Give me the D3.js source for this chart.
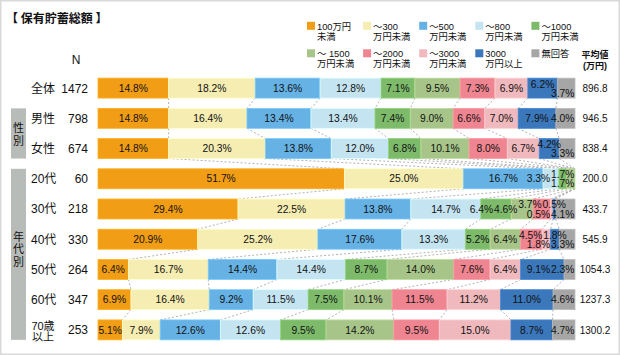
<!DOCTYPE html>
<html><head><meta charset="utf-8">
<script src="https://cdn.jsdelivr.net/npm/d3@7"></script>
<style>
body{margin:0;background:#fff}
svg{display:block}
text{font-family:"Liberation Sans","Noto Sans CJK JP",sans-serif;fill:#111}
</style>
</head><body>
<svg id="chart" width="620" height="355"></svg>
<script>
// ---------- data ----------
const title = "【 保有貯蓄総額 】";
const categories = ["全体","男性","女性","20代","30代","40代","50代","60代","70歳以上"];
const counts = [1472, 798, 674, 60, 218, 330, 264, 347, 253];
const means = [896.8, 946.5, 838.4, 200.0, 433.7, 545.9, 1054.3, 1237.3, 1300.2];
const groups = [
  {name:"性別", from:"男性", to:"女性"},
  {name:"年代別", from:"20代", to:"70歳以上"}
];
const seriesKeys = ["lt100","to300","to500","to800","to1000","to1500","to2000","to3000","ge3000","na"];
const seriesLegend = [
  ["100万円","未満"],["～300","万円未満"],["～500","万円未満"],["～800","万円未満"],["～1000","万円未満"],
  ["～ 1500","万円未満"],["～2000","万円未満"],["～3000","万円未満"],["3000","万円以上"],["無回答"]
];
const seriesColors = ["#f29d16","#f5edb2","#66b2e5","#c4e4f1","#7dbb6b","#a8c589","#ee8590","#f0b9bd","#3b77bb","#a6a6a6"];

const lt100  = [14.8,14.8,14.8,51.7,29.4,20.9, 6.4, 6.9, 5.1];
const to300  = [18.2,16.4,20.3,25.0,22.5,25.2,16.7,16.4, 7.9];
const to500  = [13.6,13.4,13.8,16.7,13.8,17.6,14.4, 9.2,12.6];
const to800  = [12.8,13.4,12.0, 3.3,14.7,13.3,14.4,11.5,12.6];
const to1000 = [ 7.1, 7.4, 6.8, 1.7, 6.4, 5.2, 8.7, 7.5, 9.5];
const to1500 = [ 9.5, 9.0,10.1, 1.7, 4.6, 6.4,14.0,10.1,14.2];
const to2000 = [ 7.3, 6.6, 8.0, 0.0, 3.7, 4.5, 7.6,11.5, 9.5];
const to3000 = [ 6.9, 7.0, 6.7, 0.0, 0.5, 1.8, 6.4,11.2,15.0];
const ge3000 = [ 6.2, 7.9, 4.2, 0.0, 0.5, 1.8, 9.1,11.0, 8.7];
const na     = [ 3.7, 4.0, 3.3, 0.0, 4.1, 3.3, 2.3, 4.6, 4.7];
const seriesValues = [lt100,to300,to500,to800,to1000,to1500,to2000,to3000,ge3000,na];

// ---------- build ----------
const svg = d3.select("#chart");
svg.append("rect").attr("x",0.75).attr("y",0.75).attr("width",618.5).attr("height",353.5)
  .attr("fill","#fff").attr("stroke","#d9d9d9").attr("stroke-width",1.5);

svg.append("text").attr("x",6).attr("y",22.5).attr("font-size",12).attr("font-weight","bold")
  .style("font-family","'Noto Sans CJK JP',sans-serif").text(title);

const rows = categories.map((c,i)=>{
  const o = {cat:c};
  seriesKeys.forEach((k,j)=>o[k]=seriesValues[j][i]);
  return o;
});
const stacked = d3.stack().keys(seriesKeys).offset(d3.stackOffsetExpand)(rows);

const x = d3.scaleLinear().domain([0,1]).range([98,575]);
const y = d3.scaleBand().domain(categories).range([73,345]).paddingInner(0.34).paddingOuter(0.17);
const bw = y.bandwidth();

// group boxes
groups.forEach((g,gi)=>{
  const y0 = y(g.from), y1 = y(g.to)+bw;
  svg.append("rect").attr("x",11).attr("y",y0).attr("width",15).attr("height",y1-y0).attr("fill","#b8bcb9");
  const chars = Array.from(g.name);
  const mid = (y0+y1)/2 + (chars.length>2 ? -5 : 1), step = 12.5;
  chars.forEach((ch,i)=>{
    svg.append("text").attr("x",18.5).attr("y",mid+(i-(chars.length-1)/2)*step+4)
      .attr("text-anchor","middle").attr("font-size",11).text(ch);
  });
});

// header
svg.append("text").attr("x",76).attr("y",63.5).attr("text-anchor","middle").attr("font-size",12).text("N");
svg.append("text").attr("x",595).attr("y",58).attr("text-anchor","middle").attr("font-size",9).attr("font-weight","bold").text("平均値");
svg.append("text").attr("x",595).attr("y",69).attr("text-anchor","middle").attr("font-size",9).attr("font-weight","bold").text("(万円)");

// legend
seriesLegend.forEach((lines,i)=>{
  const col = i%5, row = Math.floor(i/5);
  const lx = 307 + col*56.1, ly = row===0 ? 21.8 : 49.3;
  svg.append("rect").attr("x",lx).attr("y",ly).attr("width",8).attr("height",8).attr("fill",seriesColors[i]);
  lines.forEach((t,j)=>{
    svg.append("text").attr("x",lx+10).attr("y",ly+8+j*10).attr("font-size",9.3).text(t);
  });
});

// category labels, N, means
categories.forEach((c,i)=>{
  const cy = y(c)+bw/2;
  if (c.includes("以上")) {
    const parts = [c.replace("以上",""),"以上"];
    parts.forEach((p,j)=>svg.append("text").attr("x",43).attr("y",cy+j*11).attr("text-anchor","middle").attr("font-size",11).text(p));
  } else {
    svg.append("text").attr("x",31).attr("y",cy+4.4).attr("font-size",12).text(c);
  }
  svg.append("text").attr("x",88).attr("y",cy+4.4).attr("text-anchor","end").attr("font-size",12).text(counts[i]);
  svg.append("text").attr("x",595).attr("y",cy+3.7).attr("text-anchor","middle").attr("font-size",10).text(d3.format(".1f")(means[i]));
});

// dashed connectors
const conn = svg.append("g").attr("stroke","#a9a9a9").attr("stroke-width",0.9).attr("stroke-dasharray","2,2").attr("fill","none");
stacked.slice(0,-1).forEach(layer=>{
  for (let r=0;r<categories.length-1;r++){
    conn.append("line")
      .attr("x1",x(layer[r][1])).attr("y1",y(categories[r])+bw)
      .attr("x2",x(layer[r+1][1])).attr("y2",y(categories[r+1]));
  }
});

// bars
stacked.forEach((layer,k)=>{
  svg.append("g").selectAll("rect").data(layer.filter(d=>d[1]-d[0]>0)).join("rect")
    .attr("x",d=>x(d[0])).attr("y",d=>y(d.data.cat))
    .attr("width",d=>x(d[1])-x(d[0])).attr("height",bw)
    .attr("fill",seriesColors[k])
    .attr("stroke",d3.color(seriesColors[k]).brighter(0.35)).attr("stroke-width",0.8);
});

// value labels
const lab = svg.append("g");
categories.forEach((c,r)=>{
  const cy = y(c)+bw/2;
  const segs = stacked.map((layer,k)=>({k, v:seriesValues[k][r], x0:x(layer[r][0]), x1:x(layer[r][1])}))
    .filter(s=>s.v>0);
  segs.forEach(s=>{s.w=s.x1-s.x0; s.cx=(s.x0+s.x1)/2; s.level=0;});
  let i = segs.length-1;
  while (i>0) {
    if (segs[i].w<21 && segs[i-1].w<30 && segs[i-1].level===0) { segs[i-1].level=-1; segs[i].level=1; i-=2; }
    else i-=1;
  }
  segs.forEach(s=>{
    s.node = lab.append("text").attr("font-size",10.3).attr("text-anchor","middle")
      .attr("y", cy + 3.7 + (s.level===-1 ? -4.3 : s.level===1 ? 5 : 0))
      .text(d3.format(".1f")(s.v)+"%");
    s.tw = s.node.node().getComputedTextLength();
  });
  const barEnd = x(1) - 0.5;
  for (let a=segs.length-1;a>=0;a--){
    const s = segs[a];
    let right = Math.min(s.cx + s.tw/2, barEnd);
    for (let b=a+1;b<segs.length;b++){
      const t = segs[b];
      if (s.level===0 || t.level===0 || s.level===t.level) right = Math.min(right, t.left - 0.8);
    }
    s.px = right - s.tw/2;
    s.left = s.px - s.tw/2;
    s.node.attr("x", s.px);
  }
});
</script>
</body></html>
